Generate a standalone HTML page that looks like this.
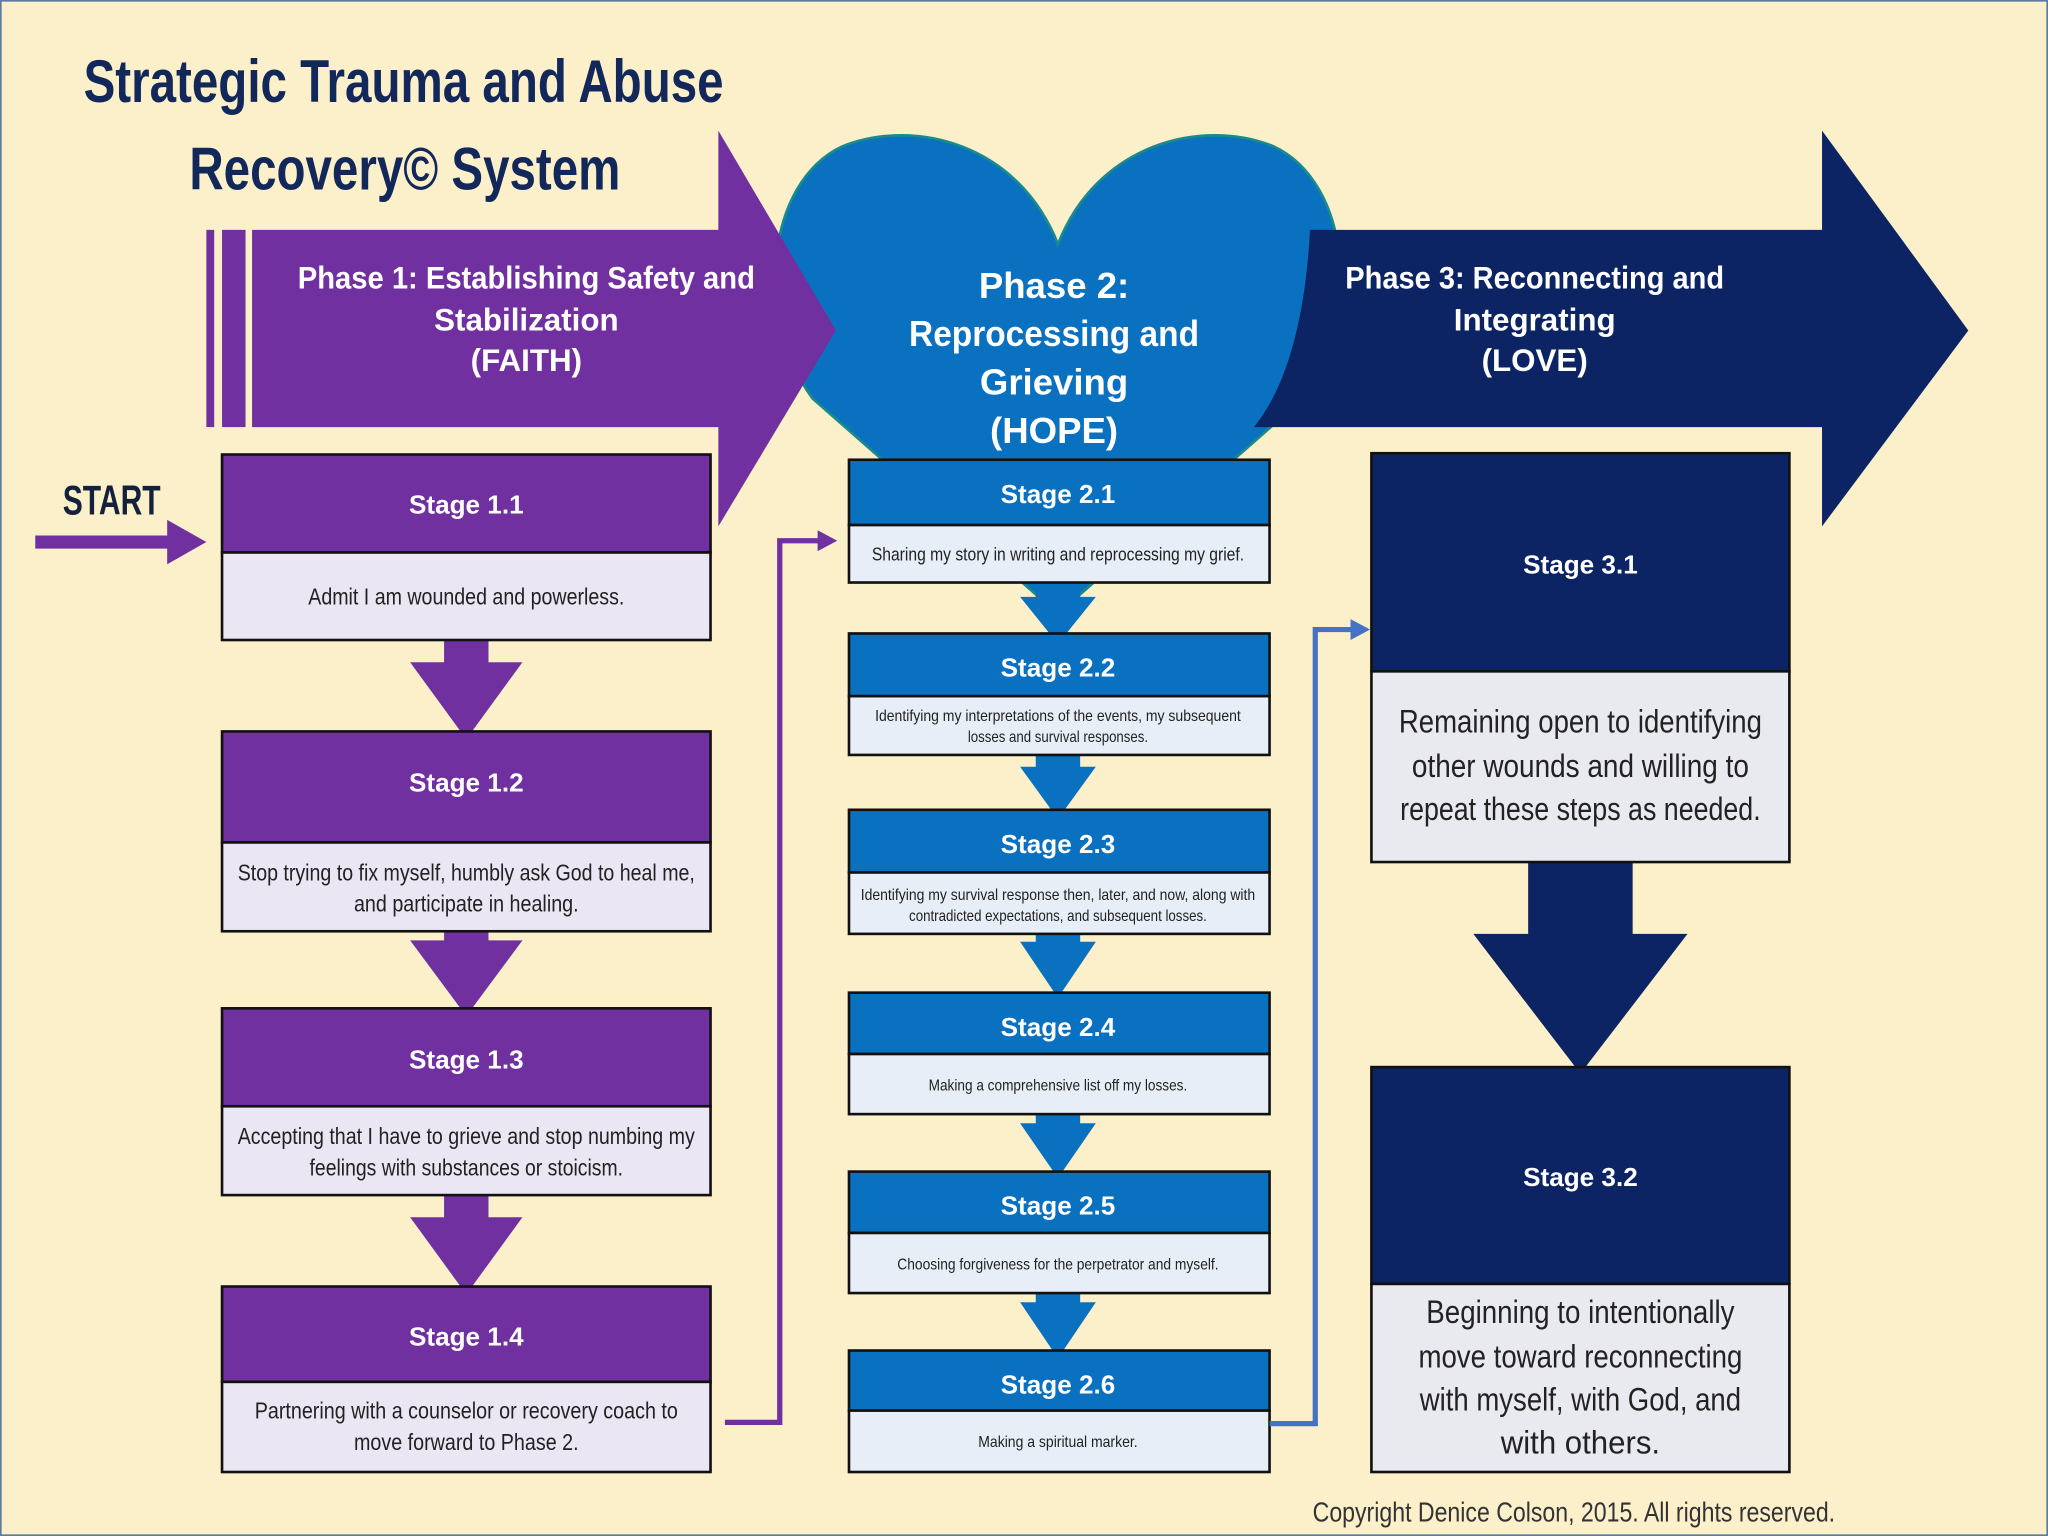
<!DOCTYPE html>
<html><head><meta charset="utf-8"><style>
html,body{margin:0;padding:0;background:#fcf0cb;}
svg{display:block;}
text{font-family:"Liberation Sans",sans-serif;}
.b{font-weight:bold;fill:#fff;}
.t{fill:#222;}
</style></head><body>
<svg width="2048" height="1536" viewBox="0 0 1568 1176" xmlns="http://www.w3.org/2000/svg">
<rect x="0.5" y="0.5" width="1567" height="1175" fill="#fcf0cb" stroke="#5a7aa0" stroke-width="1.5"/>
<!-- title -->
<text x="64" y="78" font-size="46" font-weight="bold" fill="#13285a" textLength="490" lengthAdjust="spacingAndGlyphs">Strategic Trauma and Abuse</text>
<text x="145" y="145" font-size="46" font-weight="bold" fill="#13285a" textLength="330" lengthAdjust="spacingAndGlyphs">Recovery© System</text>
<!-- heart -->
<path d="M810,187 C780,110 700,90 645,112 C585,140 578,245 622,305 L810,470 L998,305 C1042,245 1035,140 975,112 C920,90 840,110 810,187Z" fill="#0a70c0" stroke="#1a8a8a" stroke-width="2"/>
<!-- phase 1 arrow -->
<rect x="158" y="176" width="6" height="151" fill="#7030a0"/>
<rect x="170" y="176" width="18" height="151" fill="#7030a0"/>
<polygon points="193,176 550,176 550,100 640,253 550,403 550,327 193,327" fill="#7030a0"/>
<!-- phase 3 arrow -->
<path d="M1003,176 L1395,176 L1395,100 L1507,253 L1395,403 L1395,327 L960,327 C990,290 1000,230 1003,176Z" fill="#0c2463"/>
<!-- phase texts -->
<g class="b" font-size="24" text-anchor="middle">
<text x="403" y="221" textLength="350" lengthAdjust="spacingAndGlyphs">Phase 1: Establishing Safety and</text>
<text x="403" y="253">Stabilization</text>
<text x="403" y="284">(FAITH)</text>
<text x="1175" y="221" textLength="290" lengthAdjust="spacingAndGlyphs">Phase 3: Reconnecting and</text>
<text x="1175" y="253">Integrating</text>
<text x="1175" y="284">(LOVE)</text>
</g>
<g class="b" font-size="28" text-anchor="middle">
<text x="807" y="228">Phase 2:</text>
<text x="807" y="265" textLength="222" lengthAdjust="spacingAndGlyphs">Reprocessing and</text>
<text x="807" y="302">Grieving</text>
<text x="807" y="339">(HOPE)</text>
</g>
<!-- START -->
<text x="48" y="394" font-size="32" font-weight="bold" fill="#14213d" textLength="75" lengthAdjust="spacingAndGlyphs">START</text>
<polygon points="27,410 128,410 128,398 158,415 128,432 128,420 27,420" fill="#7030a0"/>
<!-- purple down arrows -->
<g fill="#7030a0">
<polygon points="340,490 374,490 374,507 400,507 357,566 314,507 340,507"/>
<polygon points="340,713 374,713 374,720 400,720 357,778 314,720 340,720"/>
<polygon points="340,915 374,915 374,932 400,932 357,991 314,932 340,932"/>
</g>
<!-- stage 1 boxes -->
<g stroke="#111" stroke-width="2">
<rect x="170" y="348" width="374" height="75" fill="#7030a0"/><rect x="170" y="423" width="374" height="67" fill="#ebe6f3"/>
<rect x="170" y="560" width="374" height="85" fill="#7030a0"/><rect x="170" y="645" width="374" height="68" fill="#ebe6f3"/>
<rect x="170" y="772" width="374" height="75" fill="#7030a0"/><rect x="170" y="847" width="374" height="68" fill="#ebe6f3"/>
<rect x="170" y="985" width="374" height="73" fill="#7030a0"/><rect x="170" y="1058" width="374" height="69" fill="#ebe6f3"/>
</g>
<g class="b" font-size="20" text-anchor="middle">
<text x="357" y="393">Stage 1.1</text>
<text x="357" y="606">Stage 1.2</text>
<text x="357" y="818">Stage 1.3</text>
<text x="357" y="1030">Stage 1.4</text>
</g>
<g class="t" font-size="18" text-anchor="middle">
<text x="357" y="463" textLength="242" lengthAdjust="spacingAndGlyphs">Admit I am wounded and powerless.</text>
<text x="357" y="674" textLength="350" lengthAdjust="spacingAndGlyphs">Stop trying to fix myself, humbly ask God to heal me,</text>
<text x="357" y="698" textLength="172" lengthAdjust="spacingAndGlyphs">and participate in healing.</text>
<text x="357" y="876" textLength="350" lengthAdjust="spacingAndGlyphs">Accepting that I have to grieve and stop numbing my</text>
<text x="357" y="900" textLength="240" lengthAdjust="spacingAndGlyphs">feelings with substances or stoicism.</text>
<text x="357" y="1086" textLength="324" lengthAdjust="spacingAndGlyphs">Partnering with a counselor or recovery coach to</text>
<text x="357" y="1110" textLength="172" lengthAdjust="spacingAndGlyphs">move forward to Phase 2.</text>
</g>
<!-- purple connector -->
<polyline points="555,1089 597,1089 597,414 628,414" fill="none" stroke="#7030a0" stroke-width="4"/>
<polygon points="626,406 641,414 626,422" fill="#7030a0"/>
<!-- blue down arrows -->
<g fill="#0a70c0">
<polygon points="793,446 827,446 827,457 839,457 810,493 781,457 793,457"/>
<polygon points="793,578 827,578 827,587 839,587 810,627 781,587 793,587"/>
<polygon points="793,715 827,715 827,721 839,721 810,764 781,721 793,721"/>
<polygon points="793,853 827,853 827,860 839,860 810,902 781,860 793,860"/>
<polygon points="793,990 827,990 827,997 839,997 810,1040 781,997 793,997"/>
</g>
<!-- stage 2 boxes -->
<g stroke="#111" stroke-width="2">
<rect x="650" y="352" width="322" height="50" fill="#0a70c0"/><rect x="650" y="402" width="322" height="44" fill="#e8eef8"/>
<rect x="650" y="485" width="322" height="48" fill="#0a70c0"/><rect x="650" y="533" width="322" height="45" fill="#e8eef8"/>
<rect x="650" y="620" width="322" height="48" fill="#0a70c0"/><rect x="650" y="668" width="322" height="47" fill="#e8eef8"/>
<rect x="650" y="760" width="322" height="47" fill="#0a70c0"/><rect x="650" y="807" width="322" height="46" fill="#e8eef8"/>
<rect x="650" y="897" width="322" height="47" fill="#0a70c0"/><rect x="650" y="944" width="322" height="46" fill="#e8eef8"/>
<rect x="650" y="1034" width="322" height="46" fill="#0a70c0"/><rect x="650" y="1080" width="322" height="47" fill="#e8eef8"/>
</g>
<g class="b" font-size="20" text-anchor="middle">
<text x="810" y="385">Stage 2.1</text>
<text x="810" y="518">Stage 2.2</text>
<text x="810" y="653">Stage 2.3</text>
<text x="810" y="793">Stage 2.4</text>
<text x="810" y="930">Stage 2.5</text>
<text x="810" y="1067">Stage 2.6</text>
</g>
<g class="t" font-size="14" text-anchor="middle">
<text x="810" y="429" textLength="285" lengthAdjust="spacingAndGlyphs">Sharing my story in writing and reprocessing my grief.</text>
<text x="810" y="552" font-size="12" textLength="280" lengthAdjust="spacingAndGlyphs">Identifying my interpretations of the events, my subsequent</text>
<text x="810" y="568" font-size="12" textLength="138" lengthAdjust="spacingAndGlyphs">losses and survival responses.</text>
<text x="810" y="689" font-size="12" textLength="302" lengthAdjust="spacingAndGlyphs">Identifying my survival response then, later, and now, along with</text>
<text x="810" y="705" font-size="12" textLength="228" lengthAdjust="spacingAndGlyphs">contradicted expectations, and subsequent losses.</text>
<text x="810" y="835" font-size="12" textLength="198" lengthAdjust="spacingAndGlyphs">Making a comprehensive list off my losses.</text>
<text x="810" y="972" font-size="12" textLength="246" lengthAdjust="spacingAndGlyphs">Choosing forgiveness for the perpetrator and myself.</text>
<text x="810" y="1108" font-size="12" textLength="122" lengthAdjust="spacingAndGlyphs">Making a spiritual marker.</text>
</g>
<!-- blue connector -->
<polyline points="972,1090 1007,1090 1007,482 1036,482" fill="none" stroke="#4472c4" stroke-width="4"/>
<polygon points="1034,474 1049,482 1034,490" fill="#4472c4"/>
<!-- big navy arrow -->
<polygon points="1170,660 1250,660 1250,715 1292,715 1210,822 1128,715 1170,715" fill="#0c2463"/>
<!-- stage 3 boxes -->
<g stroke="#111" stroke-width="2">
<rect x="1050" y="347" width="320" height="167" fill="#0c2463"/><rect x="1050" y="514" width="320" height="146" fill="#e9e9f0"/>
<rect x="1050" y="817" width="320" height="166" fill="#0c2463"/><rect x="1050" y="983" width="320" height="144" fill="#e9e9f0"/>
</g>
<g class="b" font-size="20" text-anchor="middle">
<text x="1210" y="439">Stage 3.1</text>
<text x="1210" y="908">Stage 3.2</text>
</g>
<g class="t" font-size="25" text-anchor="middle">
<text x="1210" y="561" textLength="278" lengthAdjust="spacingAndGlyphs">Remaining open to identifying</text>
<text x="1210" y="595" textLength="258" lengthAdjust="spacingAndGlyphs">other wounds and willing to</text>
<text x="1210" y="628" textLength="276" lengthAdjust="spacingAndGlyphs">repeat these steps as needed.</text>
<text x="1210" y="1013" textLength="236" lengthAdjust="spacingAndGlyphs">Beginning to intentionally</text>
<text x="1210" y="1047" textLength="248" lengthAdjust="spacingAndGlyphs">move toward reconnecting</text>
<text x="1210" y="1080" textLength="246" lengthAdjust="spacingAndGlyphs">with myself, with God, and</text>
<text x="1210" y="1113" textLength="122" lengthAdjust="spacingAndGlyphs">with others.</text>
</g>
<text x="1005" y="1165" font-size="21" fill="#333" textLength="400" lengthAdjust="spacingAndGlyphs">Copyright Denice Colson, 2015. All rights reserved.</text>
</svg>
</body></html>
